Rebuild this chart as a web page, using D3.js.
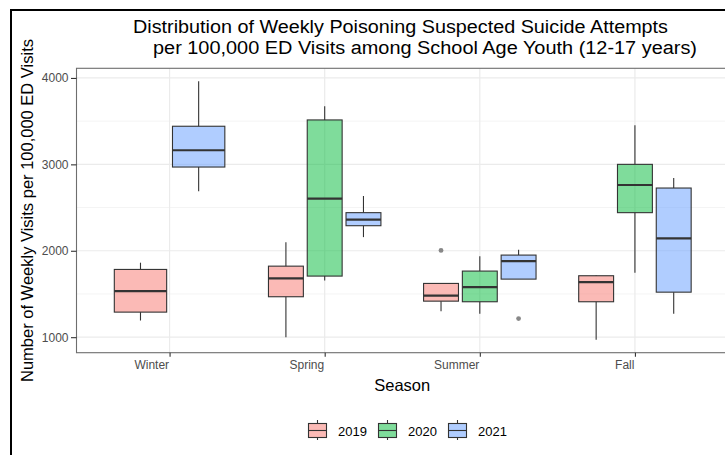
<!DOCTYPE html>
<html>
<head>
<meta charset="utf-8">
<script src="https://cdn.jsdelivr.net/npm/d3@7"></script>
<style>
  html, body { margin: 0; padding: 0; background: #fff; }
  svg { display: block; font-family: "Liberation Sans", Arial, sans-serif; }
</style>
</head>
<body>
<svg id="chart" width="725" height="455"></svg>
<script>
// Seasons on the x axis and the years used for the dodged boxes
const seasons = ["Winter", "Spring", "Summer", "Fall"];
const years = ["2019", "2020", "2021"];
const yearColors = ["#F8766D", "#00BA38", "#619CFF"];

// Box statistics per season (null = no data for that season)
// [lower whisker, Q1, median, Q3, upper whisker]
const stats2019 = [
  [1193, 1290, 1533, 1784, 1862],
  [1000, 1468, 1680, 1822, 2100],
  [1301, 1417, 1480, 1622, 1622],
  [970, 1410, 1637, 1711, 1718]
];
const stats2020 = [
  null,
  [1657, 1707, 2603, 3514, 3672],
  [1271, 1410, 1579, 1765, 1938],
  [1746, 2441, 2761, 3000, 3452]
];
const stats2021 = [
  [2688, 2969, 3163, 3441, 3962],
  [2158, 2290, 2360, 2441, 2634],
  [1672, 1672, 1880, 1950, 2012],
  [1271, 1521, 2143, 2726, 2842]
];
// Outlying weeks: [season, year, value]
const outliers = [
  ["Summer", "2019", 2004],
  ["Summer", "2021", 1215]
];
const yTicks = [1000, 2000, 3000, 4000];
const yMinorTicks = [1500, 2500, 3500];

const statsByYear = { "2019": stats2019, "2020": stats2020, "2021": stats2021 };

const svg = d3.select("#chart");

// Outer frame
svg.append("path")
  .attr("d", "M11,455 L11,10 L725,10")
  .attr("fill", "none").attr("stroke", "#000").attr("stroke-width", 2);

const panel = { left: 76.5, right: 728, top: 68.3, bottom: 352.7 };

// y domain: data extent expanded by 5% on each side
const allVals = [];
years.forEach(yr => statsByYear[yr].forEach(s => { if (s) allVals.push(s[0], s[4]); }));
outliers.forEach(o => allVals.push(o[2]));
const vMin = d3.min(allVals), vMax = d3.max(allVals);
const pad = (vMax - vMin) * 0.05;

const y = d3.scaleLinear().domain([vMin - pad, vMax + pad]).range([panel.bottom, panel.top]);
const x = d3.scalePoint().domain(seasons).range([panel.left, panel.right]).padding(0.6);
const step = x.step();
const color = d3.scaleOrdinal().domain(years).range(yearColors);

const g = svg.append("g");

// Grid
g.selectAll(".ygmin").data(yMinorTicks).join("line")
  .attr("x1", panel.left).attr("x2", panel.right)
  .attr("y1", d => y(d)).attr("y2", d => y(d))
  .attr("stroke", "#EBEBEB").attr("stroke-width", 0.6);
g.selectAll(".ygmaj").data(yTicks).join("line")
  .attr("x1", panel.left).attr("x2", panel.right)
  .attr("y1", d => y(d)).attr("y2", d => y(d))
  .attr("stroke", "#EBEBEB").attr("stroke-width", 1.2);
g.selectAll(".xg").data(seasons).join("line")
  .attr("x1", d => x(d)).attr("x2", d => x(d))
  .attr("y1", panel.top).attr("y2", panel.bottom)
  .attr("stroke", "#EBEBEB").attr("stroke-width", 1.2);

// Dodged box layout: total width 0.75 of a step, boxes take 90% of their slot
function boxPositions(seasonIdx) {
  const present = years.filter(yr => statsByYear[yr][seasonIdx]);
  const slot = 0.75 * step / present.length;
  const cx0 = x(seasons[seasonIdx]) - 0.375 * step;
  return present.map((yr, i) => ({
    year: yr,
    season: seasons[seasonIdx],
    s: statsByYear[yr][seasonIdx],
    cx: cx0 + slot * (i + 0.5),
    w: slot * 0.9
  }));
}
const boxes = seasons.flatMap((_, i) => boxPositions(i));

const bg = g.selectAll(".box").data(boxes).join("g");
bg.append("line")
  .attr("x1", d => d.cx).attr("x2", d => d.cx)
  .attr("y1", d => y(d.s[4])).attr("y2", d => y(d.s[3]))
  .attr("stroke", "#333").attr("stroke-width", 1.1);
bg.append("line")
  .attr("x1", d => d.cx).attr("x2", d => d.cx)
  .attr("y1", d => y(d.s[1])).attr("y2", d => y(d.s[0]))
  .attr("stroke", "#333").attr("stroke-width", 1.1);
bg.append("rect")
  .attr("x", d => d.cx - d.w / 2).attr("width", d => d.w)
  .attr("y", d => y(d.s[3])).attr("height", d => y(d.s[1]) - y(d.s[3]))
  .attr("fill", d => color(d.year)).attr("fill-opacity", 0.5)
  .attr("stroke", "#333").attr("stroke-width", 1.1);
bg.append("line")
  .attr("x1", d => d.cx - d.w / 2).attr("x2", d => d.cx + d.w / 2)
  .attr("y1", d => y(d.s[2])).attr("y2", d => y(d.s[2]))
  .attr("stroke", "#333").attr("stroke-width", 2.2);

// Outliers
g.selectAll(".out").data(outliers).join("circle")
  .attr("cx", d => {
    const b = boxes.find(b => b.season === d[0] && b.year === d[1]);
    return b.cx;
  })
  .attr("cy", d => y(d[2]))
  .attr("r", 2.4)
  .attr("fill", "#888");

// Panel border
g.append("rect")
  .attr("x", panel.left).attr("y", panel.top)
  .attr("width", panel.right - panel.left).attr("height", panel.bottom - panel.top)
  .attr("fill", "none").attr("stroke", "#6e6e6e").attr("stroke-width", 1.1);

// Axes
const yAxis = d3.axisLeft(y).tickValues(yTicks).tickSize(5.5).tickPadding(2.5).tickFormat(d3.format("d"));
const ya = svg.append("g").attr("transform", `translate(${panel.left},0)`).call(yAxis);
ya.select(".domain").remove();
ya.selectAll("line").attr("stroke", "#333").attr("stroke-width", 1.1);
ya.selectAll("text").attr("fill", "#4D4D4D").style("font-size", "12px").style("font-family", "Liberation Sans, Arial, sans-serif");

// Season labels sit right-aligned against their ticks
const xAxis = d3.axisBottom(x).tickSize(4).tickPadding(4);
const xa = svg.append("g").attr("transform", `translate(0,${panel.bottom})`).call(xAxis);
xa.select(".domain").remove();
xa.selectAll("line").attr("stroke", "#333").attr("stroke-width", 1.1);
xa.selectAll("text").attr("fill", "#4D4D4D").attr("text-anchor", "end").attr("x", -1)
  .style("font-size", "12px").style("font-family", "Liberation Sans, Arial, sans-serif");

// Two-line title, each line centred on its own (second line indented)
const titleLines = [
  { text: "Distribution of Weekly Poisoning Suspected Suicide Attempts", cx: 400.5, y: 32.5, len: 535 },
  { text: "per 100,000 ED Visits among School Age Youth (12-17 years)", cx: 425, y: 53.5, len: 544 }
];
svg.selectAll(".title").data(titleLines).join("text")
  .attr("x", d => d.cx).attr("y", d => d.y)
  .attr("text-anchor", "middle").attr("fill", "#000").style("font-size", "18px")
  .attr("textLength", d => d.len).attr("lengthAdjust", "spacingAndGlyphs")
  .text(d => d.text);

svg.append("text")
  .attr("x", (panel.left + 728) / 2).attr("y", 390.5)
  .attr("text-anchor", "middle").style("font-size", "16.5px").attr("fill", "#000")
  .text("Season");

svg.append("text")
  .attr("transform", `translate(32.5,${(panel.top + panel.bottom) / 2}) rotate(-90)`)
  .attr("text-anchor", "middle").style("font-size", "16.5px").attr("fill", "#000")
  .text("Number of Weekly Visits per 100,000 ED Visits");

// Legend
const legendX = [308.5, 378.5, 448.5];
const lg = svg.append("g").selectAll("g").data(years).join("g")
  .attr("transform", (d, i) => `translate(${legendX[i]},0)`);
lg.append("line").attr("x1", 9).attr("x2", 9).attr("y1", 420).attr("y2", 440)
  .attr("stroke", "#333").attr("stroke-width", 1.1);
lg.append("rect").attr("x", 0).attr("y", 423.5).attr("width", 18).attr("height", 14)
  .attr("fill", "#fff").attr("stroke", "none");
lg.append("rect").attr("x", 0).attr("y", 423.5).attr("width", 18).attr("height", 14)
  .attr("fill", d => color(d)).attr("fill-opacity", 0.5)
  .attr("stroke", "#333").attr("stroke-width", 1.1);
lg.append("line").attr("x1", 0).attr("x2", 18).attr("y1", 430.5).attr("y2", 430.5)
  .attr("stroke", "#333").attr("stroke-width", 1.1);
lg.append("text").attr("x", 29.5).attr("y", 436).style("font-size", "13px").attr("fill", "#000")
  .text(d => d);
</script>
</body>
</html>
